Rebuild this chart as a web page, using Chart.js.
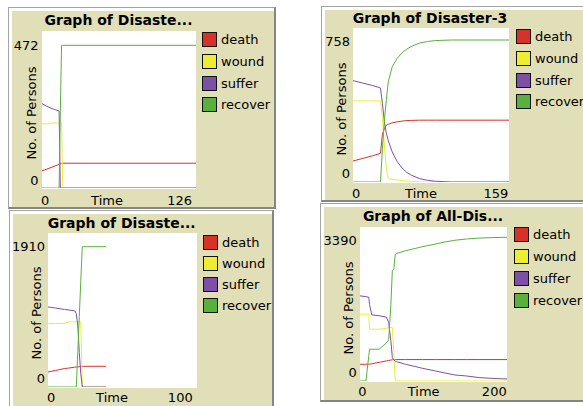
<!DOCTYPE html>
<html>
<head>
<meta charset="utf-8">
<script src="https://cdn.jsdelivr.net/npm/chart.js@4.4.0/dist/chart.umd.min.js"></script>
<style>
  body { margin: 0; width: 583px; height: 406px; overflow: hidden; background: #fff; position: relative;
         font-family: "DejaVu Sans", sans-serif; color: #000; }
  .panel { position: absolute; box-sizing: border-box; background: #e0dfb8;
           border-style: solid; border-width: 1px 2px 2px 1px;
           border-color: #a3a3a3 #858585 #858585 #a3a3a3; box-shadow: inset 3px 3px 0 #fff; }
  .lbl { position: absolute; font-size: 13px; line-height: 13px; white-space: nowrap; }
  .title { position: absolute; font-size: 14px; line-height: 14px; font-weight: bold; white-space: nowrap;
           transform: translateX(-50%); }
  .ytitle { transform: translate(-50%, -50%) rotate(-90deg); }
  canvas { position: absolute; background: #fff; }
  .leg { position: absolute; display: flex; align-items: center; height: 15px; }
  .leg span.box { width: 13px; height: 13px; border: 1px solid #111; margin-right: 4px; }
  .leg span.txt { font-size: 13px; line-height: 15px; white-space: nowrap; }
</style>
</head>
<body>
<script>
// series shared by every plot
const seriesNames = ["death", "wound", "suffer", "recover"];
const penColors = ["#d73229", "#eded31", "#7c50a4", "#59b03c"];

const titles = ["Graph of Disaste...", "Graph of Disaster-3", "Graph of Disaste...", "Graph of All-Dis..."];
const xMinLabels = [0, 0, 0, 0];
const xMaxLabels = [126, 159, 100, 200];
const yMinLabels = [0, 0, 0, 0];
const yMaxLabels = [472, 758, 1910, 3390];

// plot 1
const time1 = [0, 5, 10, 14, 15, 16, 17, 126];
const death1 = [57, 64, 72, 78, 80, 82, 82, 82];
const wound1 = [212, 212, 215, 215, 215, 215, 0, 0];
const suffer1 = [279, 268, 260, 255, 0, 0, 0, 0];
const recover1 = [0, 0, 0, 0, 255, 472, 472, 472];

// plot 2 (Disaster-3)
const time2 = [0, 10, 20, 28, 30, 32, 34, 36, 40, 45, 50, 55, 60, 68, 76, 84, 100, 159];
const death2 = [112, 126, 140, 153, 255, 285, 303, 308, 316, 321, 325, 328, 329, 330, 330, 330, 330, 330];
const wound2 = [433, 433, 433, 433, 340, 200, 70, 18, 14, 11, 8, 5, 3, 1, 0, 0, 0, 0];
const suffer2 = [541, 528, 515, 502, 420, 320, 260, 220, 160, 110, 75, 50, 35, 18, 9, 4, 0, 0];
const recover2 = [0, 0, 0, 0, 180, 330, 440, 536, 615, 660, 690, 710, 725, 742, 750, 755, 758, 758];

// plot 3
const time3 = [0, 5, 11, 14, 18, 19, 20, 21, 22, 23, 39];
const death3 = [205, 225, 251, 258, 270, 272, 274, 277, 280, 282, 282];
const wound3 = [865, 865, 865, 887, 887, 887, 887, 887, 887, 0, 0];
const suffer3 = [1091, 1075, 1056, 1048, 1036, 1000, 830, 470, 180, 0, 0];
const recover3 = [0, 0, 0, 0, 0, 0, 480, 960, 1440, 1910, 1910];

// plot 4 (All-Disasters)
const time4 = [0, 8, 12, 13, 16, 26, 36, 39, 42, 44, 46, 48, 50, 62, 85, 103, 113, 129, 145, 162, 185, 200];
const death4 = [395, 395, 395, 397, 405, 440, 475, 485, 495, 500, 505, 505, 505, 505, 505, 505, 505, 505, 505, 505, 505, 505];
const wound4 = [1577, 1577, 1577, 1222, 1222, 1222, 1245, 1255, 1262, 1262, 640, 0, 0, 0, 0, 0, 0, 0, 0, 0, 0, 0];
const suffer4 = [2009, 1990, 1975, 1800, 1560, 1540, 1505, 1380, 950, 553, 495, 470, 455, 395, 300, 236, 199, 142, 118, 80, 57, 47];
const recover4 = [0, 0, 600, 750, 750, 750, 900, 970, 1800, 2600, 2650, 2990, 3010, 3073, 3168, 3232, 3272, 3320, 3350, 3372, 3385, 3390];

const times = [time1, time2, time3, time4];
const series = [
  [death1, wound1, suffer1, recover1],
  [death2, wound2, suffer2, recover2],
  [death3, wound3, suffer3, recover3],
  [death4, wound4, suffer4, recover4],
];

// page layout (pixels)
const layout = [
  { panel: [8, 7, 268, 202], plot: [42, 31, 154, 158], gap: 14.3, title: [118.5, 13.2],
    yLabR: 38.5, yMaxC: 45, yMinC: 180, yTitle: [30.5, 112.5],
    xLabC: 200, xMinL: 41, timeC: 107, xMaxR: 192, legX: 202, legTops: [32, 54, 76, 97] },
  { panel: [321, 6, 280, 196], plot: [353, 28, 156, 155], gap: 12, title: [430, 10.9],
    yLabR: 350, yMaxC: 41.7, yMinC: 173, yTitle: [341, 109],
    xLabC: 193, xMinL: 352, timeC: 421, xMaxR: 508.3, legX: 516, legTops: [29, 51, 73, 94] },
  { panel: [9, 210, 265, 210], plot: [48, 233, 149, 155], gap: 13.7, title: [121.7, 215.9],
    yLabR: 45, yMaxC: 246.7, yMinC: 378.3, yTitle: [36, 312.5],
    xLabC: 397.7, xMinL: 47, timeC: 112, xMaxR: 192.7, legX: 203, legTops: [235, 256, 277, 298] },
  { panel: [320, 203, 280, 199], plot: [360, 227, 147, 155], gap: 10.3, title: [433, 208.9],
    yLabR: 356.7, yMaxC: 240, yMinC: 372.7, yTitle: [347.5, 307.5],
    xLabC: 391.7, xMinL: 358.3, timeC: 423.7, xMaxR: 506.7, legX: 514, legTops: [227, 249, 271, 293] },
];

function addText(txt, x, yc, align, extraClass) {
  const d = document.createElement("div");
  d.className = "lbl" + (extraClass ? " " + extraClass : "");
  d.textContent = txt;
  d.style.left = x + "px";
  if (extraClass === "ytitle") {
    d.style.top = yc + "px";
  } else {
    d.style.top = (yc - 6.25) + "px";
    if (align === "center") d.style.transform = "translateX(-50%)";
    if (align === "right") d.style.transform = "translateX(-100%)";
  }
  document.body.appendChild(d);
}

layout.forEach((L, p) => {
  const panel = document.createElement("div");
  panel.className = "panel";
  panel.style.left = L.panel[0] + "px";
  panel.style.top = L.panel[1] + "px";
  panel.style.width = L.panel[2] + "px";
  panel.style.height = L.panel[3] + "px";
  document.body.appendChild(panel);

  const t = document.createElement("div");
  t.className = "title";
  t.textContent = titles[p];
  t.style.left = L.title[0] + "px";
  t.style.top = L.title[1] + "px";
  document.body.appendChild(t);

  // axis labels, NetLogo style: only min and max
  addText(String(yMaxLabels[p]), L.yLabR, L.yMaxC, "right");
  addText(String(yMinLabels[p]), L.yLabR, L.yMinC, "right");
  addText("No. of Persons", L.yTitle[0], L.yTitle[1], null, "ytitle");
  addText(String(xMinLabels[p]), L.xMinL, L.xLabC, "left");
  addText("Time", L.timeC, L.xLabC, "center");
  addText(String(xMaxLabels[p]), L.xMaxR, L.xLabC, "right");

  // legend
  seriesNames.forEach((name, i) => {
    const row = document.createElement("div");
    row.className = "leg";
    row.style.left = L.legX + "px";
    row.style.top = L.legTops[i] + "px";
    const box = document.createElement("span");
    box.className = "box";
    box.style.background = penColors[i];
    const txt = document.createElement("span");
    txt.className = "txt";
    txt.textContent = name;
    row.appendChild(box);
    row.appendChild(txt);
    document.body.appendChild(row);
  });

  // the plot itself
  const cv = document.createElement("canvas");
  cv.width = L.plot[2];
  cv.height = L.plot[3];
  cv.style.left = L.plot[0] + "px";
  cv.style.top = L.plot[1] + "px";
  document.body.appendChild(cv);

  const h = L.plot[3] - 1;
  const scaleMax = yMaxLabels[p] * h / (h - L.gap);

  new Chart(cv, {
    type: "line",
    data: {
      datasets: seriesNames.map((name, i) => ({
        label: name,
        data: times[p].map((x, k) => ({ x: x, y: series[p][i][k] })),
        borderColor: penColors[i],
        borderWidth: 1,
        pointRadius: 0,
        tension: 0,
        fill: false,
        order: 3 - i,
      })),
    },
    options: {
      responsive: false,
      animation: false,
      events: [],
      layout: { padding: { bottom: 1 } },
      plugins: { legend: { display: false }, tooltip: { enabled: false } },
      scales: {
        x: { type: "linear", display: false, min: 0, max: xMaxLabels[p] },
        y: { display: false, min: 0, max: scaleMax },
      },
    },
  });
});
</script>
</body>
</html>
